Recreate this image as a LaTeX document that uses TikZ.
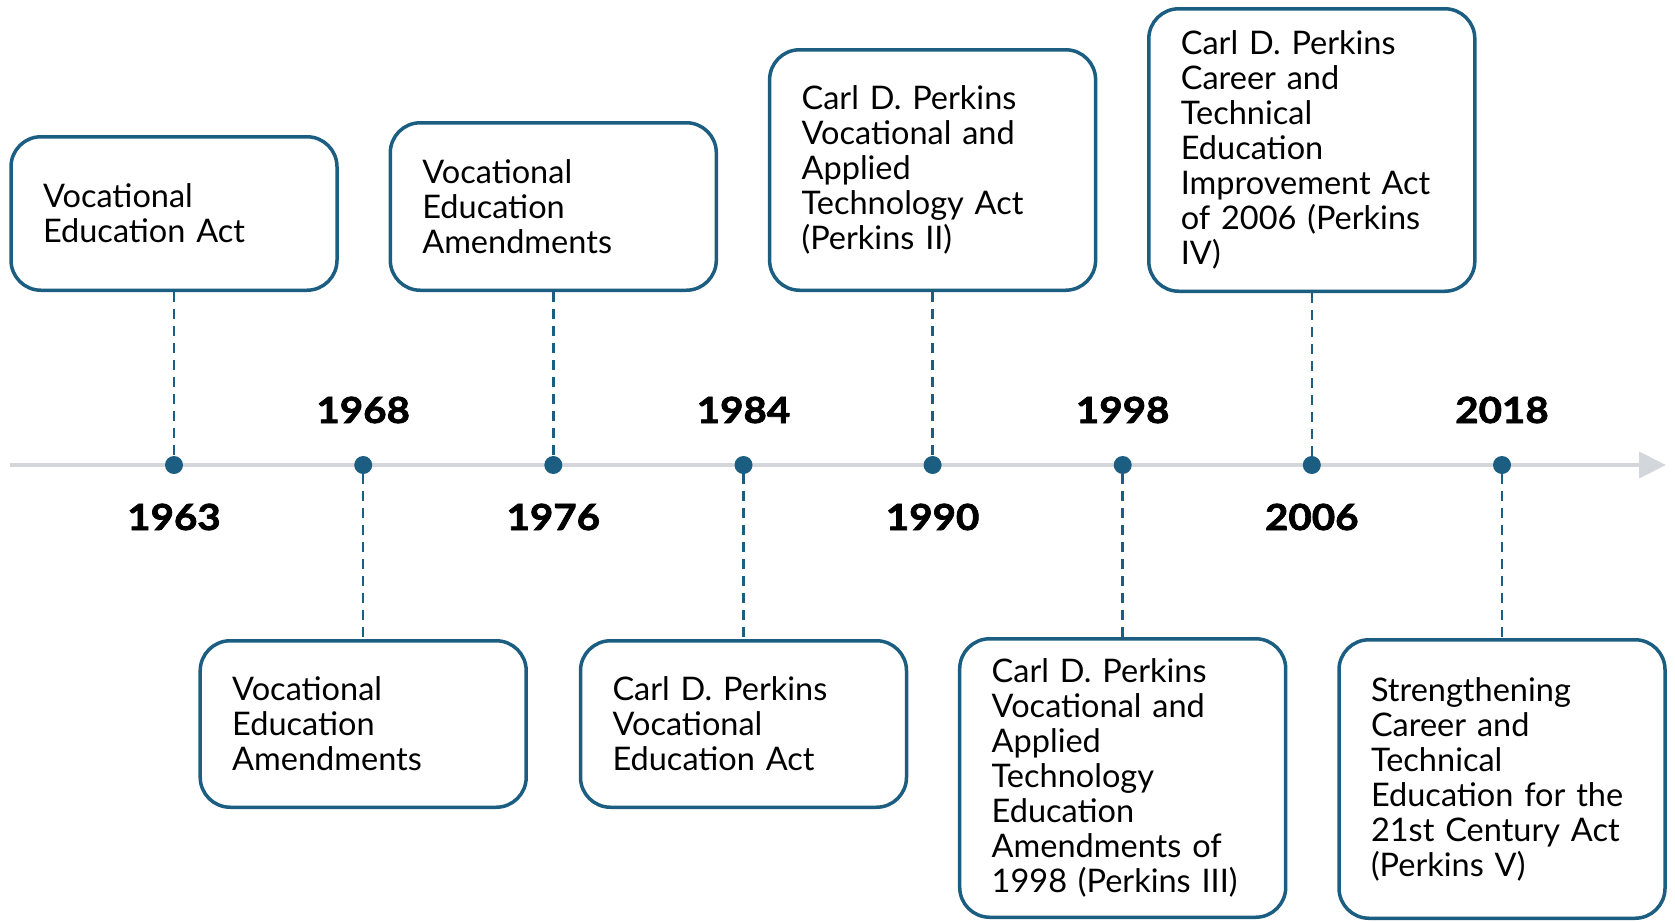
\documentclass[tikz,border=0pt]{standalone}
\usepackage{fontspec}
\setmainfont{Lato}
\newfontfamily\yearfont{Lato}[BoldFeatures={FakeStretch=1.12,FakeBold=2}]
\usetikzlibrary{arrows.meta}
\definecolor{tlblue}{HTML}{1B5E82}
\definecolor{tlgray}{HTML}{D3D7DC}
\begin{document}
\begin{tikzpicture}[x=1pt,y=-1pt,
  evbox/.style={draw=tlblue, line width=3.5pt, rounded corners=30pt, fill=white,
    inner xsep=32pt, inner ysep=0pt, text width=262pt, align=left,
    font=\fontsize{32.5}{35}\selectfont},
  evdot/.style={circle, fill=tlblue, minimum size=18pt, inner sep=0pt},
  yearlbl/.style={anchor=base, font=\fontsize{36}{40}\yearfont\bfseries},
  link/.style={draw=tlblue, line width=2.5pt, dash pattern=on 10pt off 7pt}]
\useasboundingbox (0,0) rectangle (1675,921);

% timeline
\coordinate (tlstart) at (10,465);
\coordinate (tlend) at (1666,465);
\draw[tlgray, line width=4pt, -{Triangle[length=27pt,width=26pt]}] (tlstart) -- (tlend);

% boxes (top)
\node[evbox, minimum height=153.5pt] (b1963) at (174,213.5) {Vocational\\Education Act};
\node[evbox, minimum height=167.5pt] (b1976) at (553.3,206.5) {Vocational\\Education\\Amendments};
\node[evbox, minimum height=240.5pt] (b1990) at (932.6,170) {Carl D. Perkins\\Vocational and\\Applied\\Technology Act\\(Perkins II)};
\node[evbox, minimum height=282.5pt] (b2006) at (1311.8,150) {Carl D. Perkins\\Career and\\Technical\\Education\\Improvement Act\\of 2006 (Perkins\\IV)};
% boxes (bottom)
\node[evbox, minimum height=166.5pt] (b1968) at (363.2,724) {Vocational\\Education\\Amendments};
\node[evbox, minimum height=166.5pt] (b1984) at (743.5,724) {Carl D. Perkins\\Vocational\\Education Act};
\node[evbox, minimum height=278.5pt] (b1998) at (1122.7,778) {Carl D. Perkins\\Vocational and\\Applied\\Technology\\Education\\Amendments of\\1998 (Perkins III)};
\node[evbox, minimum height=278.5pt] (b2018) at (1502,779) {Strengthening\\Career and\\Technical\\Education for the\\21st Century Act\\(Perkins V)};

% dots
\node[evdot] (d1963) at (174,465) {};
\node[evdot] (d1968) at (363.2,465) {};
\node[evdot] (d1976) at (553.3,465) {};
\node[evdot] (d1984) at (743.5,465) {};
\node[evdot] (d1990) at (932.6,465) {};
\node[evdot] (d1998) at (1122.7,465) {};
\node[evdot] (d2006) at (1311.8,465) {};
\node[evdot] (d2018) at (1502,465) {};

% links
\draw[link] (b1963.south) -- (d1963.north);
\draw[link] (b1976.south) -- (d1976.north);
\draw[link] (b1990.south) -- (d1990.north);
\draw[link] (b2006.south) -- (d2006.north);
\draw[link] (d1968.south) -- (b1968.north);
\draw[link] (d1984.south) -- (b1984.north);
\draw[link] (d1998.south) -- (b1998.north);
\draw[link] (d2018.south) -- (b2018.north);

% years
\node[yearlbl] (y1963) at (174,530) {1963};
\node[yearlbl] (y1976) at (553.3,530) {1976};
\node[yearlbl] (y1990) at (932.6,530) {1990};
\node[yearlbl] (y2006) at (1311.8,530) {2006};
\node[yearlbl] (y1968) at (363.2,423) {1968};
\node[yearlbl] (y1984) at (743.5,423) {1984};
\node[yearlbl] (y1998) at (1122.7,423) {1998};
\node[yearlbl] (y2018) at (1502,423) {2018};
\end{tikzpicture}
\end{document}
